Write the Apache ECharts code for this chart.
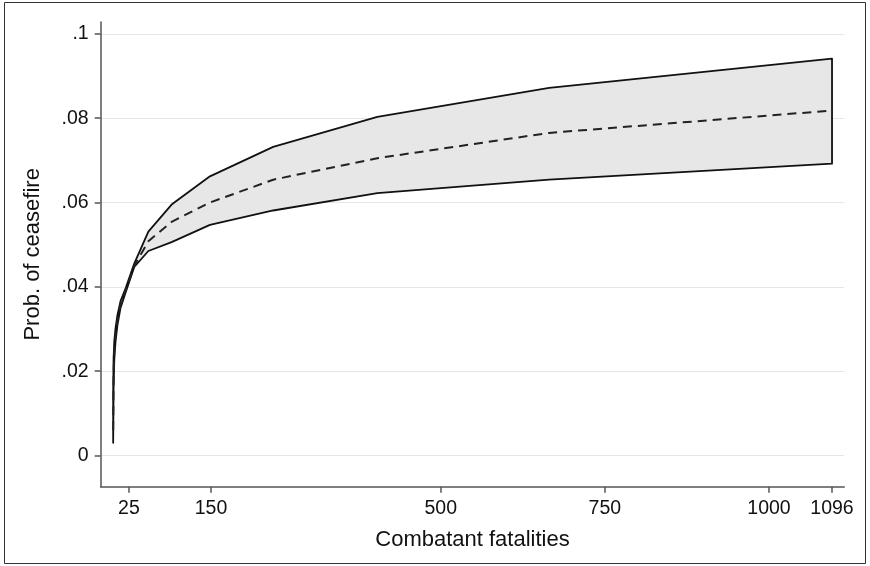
<!DOCTYPE html>
<html>
<head>
<meta charset="utf-8">
<script src="https://cdn.jsdelivr.net/npm/echarts@6/dist/echarts.min.js"></script>
<style>html,body{margin:0;padding:0;background:#fff}#c{width:870px;height:566px}</style>
</head>
<body>
<div id="c"></div>
<script>
// Combatant fatalities (x) at which the predictions are evaluated
const fatalities = [1, 1.65, 2.72, 4.48, 7.39, 12.2, 20.1, 33.1, 54.6, 90.0, 148.4, 244.7, 403.4, 665.1, 1096];
// Predicted probability of ceasefire and 95% CI bounds
const probMean  = [0.0060, 0.0195, 0.0250, 0.0285, 0.0320, 0.0358, 0.0392, 0.0450, 0.0508, 0.0554, 0.0600, 0.0654, 0.0705, 0.0765, 0.0818];
const probUpper = [0.0150, 0.0232, 0.0272, 0.0300, 0.0332, 0.0366, 0.0397, 0.0455, 0.0531, 0.0595, 0.0662, 0.0732, 0.0803, 0.0872, 0.0941];
const probLower = [0.0030, 0.0160, 0.0228, 0.0268, 0.0308, 0.0350, 0.0387, 0.0447, 0.0485, 0.0506, 0.0547, 0.0581, 0.0622, 0.0654, 0.0692];
// Tick values and labels
const xTicks = [25, 150, 500, 750, 1000, 1096];
const yTicks = [0, 0.02, 0.04, 0.06, 0.08, 0.1];
const yTickLabels = ['0', '.02', '.04', '.06', '.08', '.1'];

const FONT = '"Liberation Sans", Arial, Helvetica, sans-serif';
const chart = echarts.init(document.getElementById('c'), null, {renderer: 'canvas'});

const meanData = fatalities.map((x, i) => [x, probMean[i]]);

chart.setOption({
  animation: false,
  backgroundColor: '#fff',
  graphic: [{
    type: 'rect', silent: true, z: 100,
    shape: {x: 4.5, y: 2.5, width: 861, height: 561},
    style: {fill: 'none', stroke: '#333', lineWidth: 1}
  }],
  grid: {left: 100.7, right: 25.7, top: 22, bottom: 79.3, containLabel: false},
  xAxis: {
    type: 'value', min: -18, max: 1114.7,
    name: 'Combatant fatalities', nameLocation: 'middle', nameGap: 42,
    nameTextStyle: {fontFamily: FONT, fontSize: 22, color: '#111'},
    axisLine: {show: true, onZero: false, lineStyle: {color: '#555', width: 1.5}},
    axisTick: {show: true, length: 6, customValues: xTicks, lineStyle: {color: '#555', width: 1.5}},
    axisLabel: {customValues: xTicks, margin: 12, fontFamily: FONT, fontSize: 19.5, color: '#111',
      formatter: v => String(Math.round(v))},
    splitLine: {show: false}
  },
  yAxis: {
    type: 'value', min: -0.0074, max: 0.1028,
    name: 'Prob. of ceasefire', nameLocation: 'middle', nameGap: 57, nameRotate: 90,
    nameTextStyle: {fontFamily: FONT, fontSize: 22, color: '#111'},
    axisLine: {show: true, onZero: false, lineStyle: {color: '#555', width: 1.5}},
    axisTick: {show: true, length: 6, customValues: yTicks, lineStyle: {color: '#555', width: 1.5}},
    axisLabel: {
      customValues: yTicks, margin: 12, fontFamily: FONT, fontSize: 19.5, color: '#111',
      formatter: v => { const i = yTicks.findIndex(t => Math.abs(t - v) < 1e-9); return i >= 0 ? yTickLabels[i] : ''; }
    },
    splitLine: {show: true, lineStyle: {color: '#e6e6e6', width: 1.2}}
  },
  series: [
    {
      type: 'custom', name: 'CI', z: 3, silent: true,
      data: [[fatalities[0], probLower[0]]],
      renderItem: function (params, api) {
        const pts = [];
        for (let i = 0; i < fatalities.length; i++) pts.push(api.coord([fatalities[i], probLower[i]]));
        for (let i = fatalities.length - 1; i >= 0; i--) pts.push(api.coord([fatalities[i], probUpper[i]]));
        return {
          type: 'polygon',
          shape: {points: pts},
          style: {fill: '#e7e7e7', stroke: '#111', lineWidth: 1.8, lineJoin: 'round'}
        };
      }
    },
    {
      type: 'line', name: 'Mean', z: 4, silent: true,
      data: meanData, showSymbol: false, symbol: 'none',
      lineStyle: {color: '#222', width: 2, type: [9, 6]}
    }
  ]
});
</script>
</body>
</html>
